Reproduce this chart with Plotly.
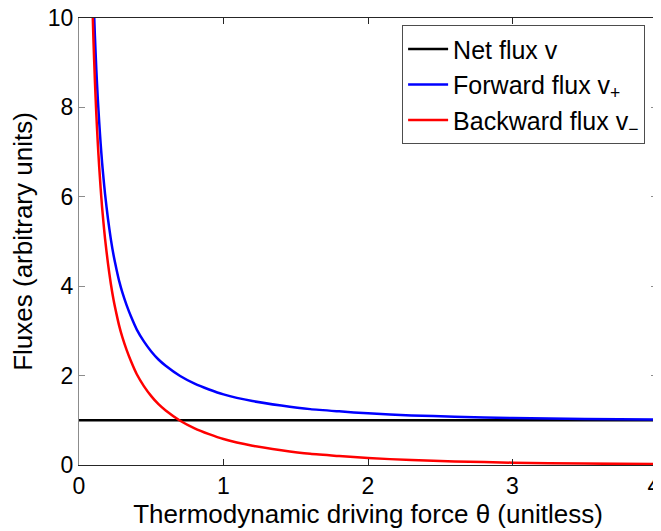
import plotly.graph_objects as go

# Data
theta = [0.09, 0.10, 0.11, 0.12, 0.13, 0.14, 0.15, 0.16, 0.17, 0.18, 0.20, 0.22,
         0.24, 0.26, 0.28, 0.30, 0.33, 0.36, 0.40, 0.45, 0.50, 0.55, 0.60, 0.70,
         0.80, 0.90, 1.00, 1.20, 1.40, 1.60, 1.80, 2.00, 2.30, 2.60, 3.00, 3.50, 4.00]
forward = [11.6, 10.51, 9.60, 8.84, 8.20, 7.66, 7.18, 6.76, 6.40, 6.07, 5.52, 5.06,
           4.68, 4.37, 4.09, 3.86, 3.57, 3.32, 3.03, 2.76, 2.54, 2.36, 2.22, 1.99,
           1.82, 1.69, 1.58, 1.43, 1.33, 1.25, 1.20, 1.156, 1.11, 1.08, 1.052, 1.031, 1.019]
backward = [10.6, 9.51, 8.60, 7.84, 7.20, 6.66, 6.18, 5.76, 5.40, 5.07, 4.52, 4.06,
            3.68, 3.37, 3.09, 2.86, 2.57, 2.32, 2.03, 1.76, 1.54, 1.36, 1.22, 0.99,
            0.82, 0.69, 0.58, 0.43, 0.33, 0.25, 0.20, 0.156, 0.11, 0.08, 0.052, 0.031, 0.019]
net_x = [0, 4]
net_y = [1, 1]
x_ticks = [0, 1, 2, 3, 4]
x_tick_text = ["0", "1", "2", "3", "4<span style=\"color:white\">.</span>"]
y_ticks = [0, 2, 4, 6, 8, 10]

FONT = "Liberation Sans, Arial, Helvetica, sans-serif"

fig = go.Figure()
fig.add_trace(go.Scatter(x=net_x, y=net_y, mode="lines", name="Net flux v",
                         line=dict(color="black", width=2.5)))
fig.add_trace(go.Scatter(x=theta, y=forward, mode="lines", name="Forward flux v<sub>+</sub>",
                         line=dict(color="#0000ff", width=2.5, shape="spline", smoothing=0.6)))
fig.add_trace(go.Scatter(x=theta, y=backward, mode="lines", name="Backward flux v<sub>\u2212</sub>",
                         line=dict(color="#ff0000", width=2.5, shape="spline", smoothing=0.6)))

axis_common = dict(showline=True, linewidth=1, mirror="ticks",
                   ticks="inside", ticklen=6, showgrid=False,
                   zeroline=False, automargin=False, ticklabeloverflow="allow",
                   tickfont=dict(family=FONT, size=23, color="black"))

# page body has an 8px margin, so the figure is 8px smaller than the window
fig.update_layout(
    width=653, height=523,
    margin=dict(l=71, r=4, t=10, b=66),
    paper_bgcolor="white", plot_bgcolor="white",
    font=dict(family=FONT, color="black"),
    xaxis=dict(range=[0, 4], tickvals=x_ticks, ticktext=x_tick_text,
               linecolor="#262626", tickcolor="#262626",
               title=dict(text="Thermodynamic driving force \u03b8 (unitless)",
                          font=dict(family=FONT, size=26), standoff=6),
               **axis_common),
    yaxis=dict(range=[0, 10], tickvals=y_ticks,
               linecolor="#8c8c8c", tickcolor="#8c8c8c",
               title=dict(text="Fluxes (arbitrary units)",
                          font=dict(family=FONT, size=26), standoff=8),
               **axis_common),
    legend=dict(x=0.559, y=0.984, xanchor="left", yanchor="top",
                bgcolor="white", bordercolor="#4d4d4d", borderwidth=1,
                font=dict(family=FONT, size=25, color="black"),
                tracegroupgap=0, itemwidth=40),
    showlegend=True,
)

fig.write_html("out.html")
